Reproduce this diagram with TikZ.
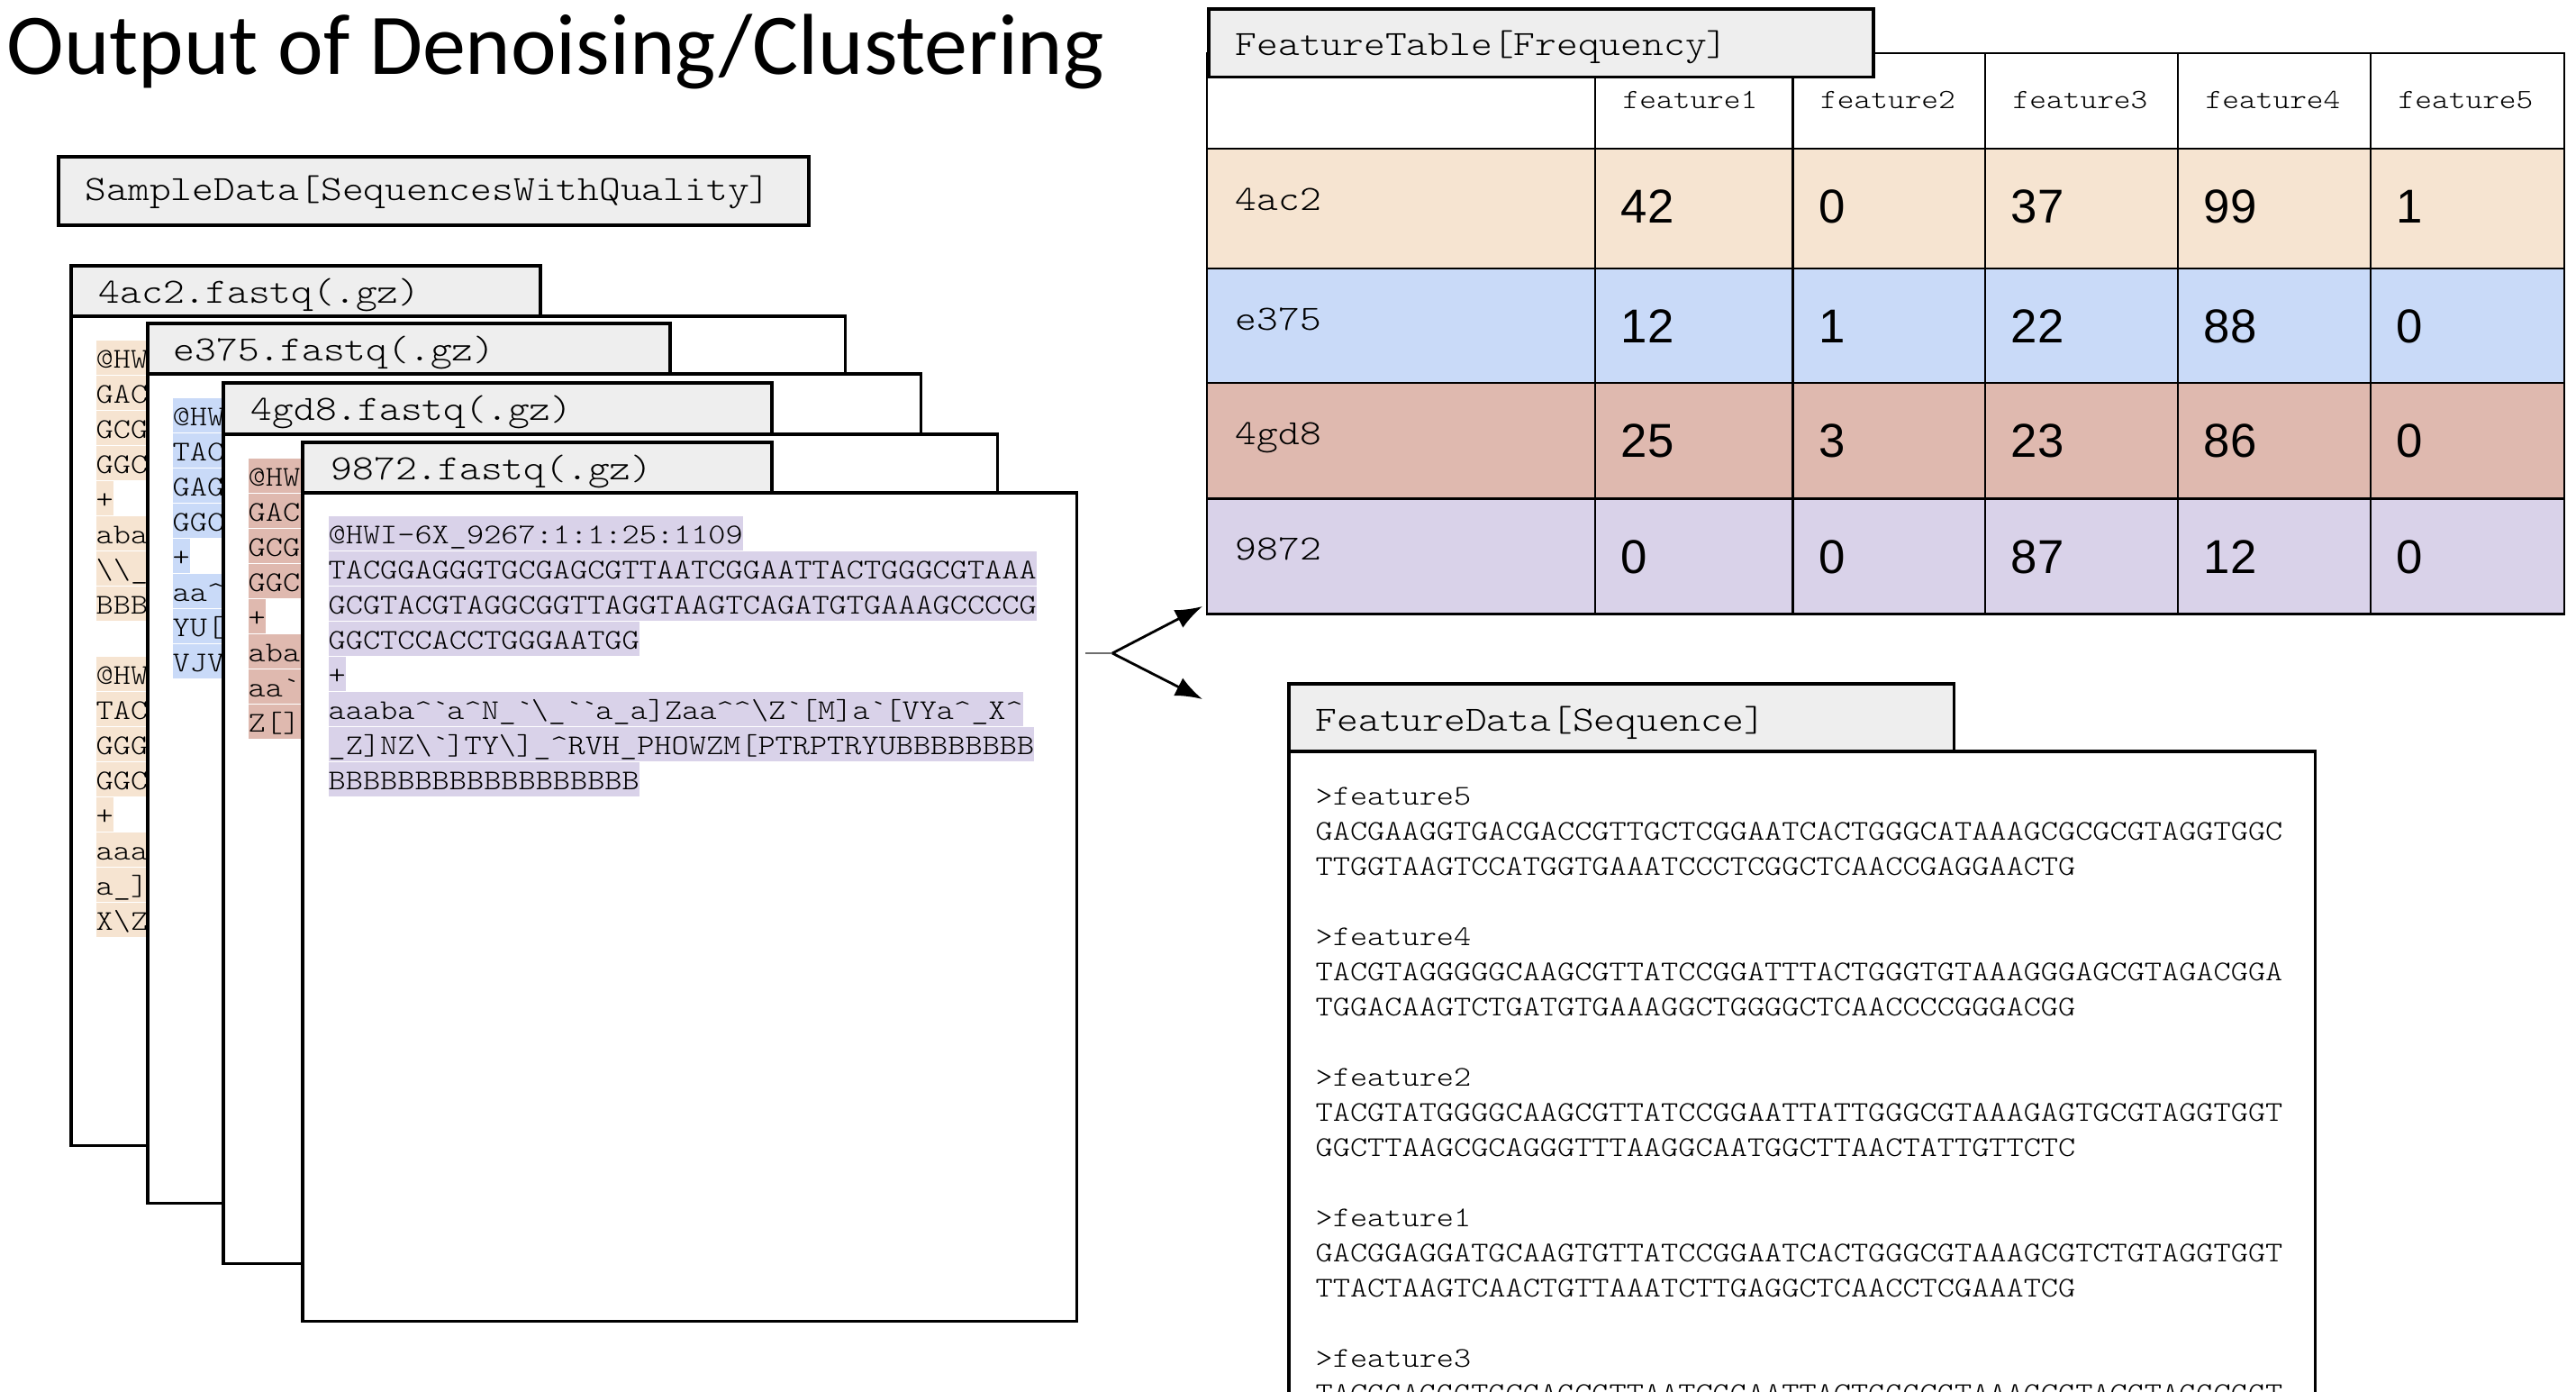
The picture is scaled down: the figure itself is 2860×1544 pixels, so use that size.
\documentclass[tikz,border=0pt]{standalone}
\usepackage{fontspec}
\setmonofont{lmmonolt10-regular.otf}[FakeStretch=1.15]
\newfontfamily\titlefont{Carlito}
\newfontfamily\numfont{Liberation Sans}
\usetikzlibrary{arrows.meta}

\definecolor{tabgray}{RGB}{238,238,238}
\definecolor{cA}{RGB}{246,228,209}
\definecolor{cB}{RGB}{201,218,248}
\definecolor{cC}{RGB}{223,185,175}
\definecolor{cD}{RGB}{217,210,233}
\definecolor{stubgray}{RGB}{110,110,110}

\newcommand\hatc{\textasciicircum}
\newcommand\grv{\textasciigrave}
\newcommand\bsl{\textbackslash}
\newcommand\usc{\_}
\newcommand\sqfont{\fontsize{9.03}{10}\selectfont\ttfamily}
\newcommand\lbfont{\fontsize{11.2}{12}\selectfont\ttfamily}

\tikzset{
  tabbox/.style={draw=black, line width=1pt, fill=tabgray, inner sep=0, anchor=north west},
  cardbody/.style={draw=black, line width=1pt, fill=white, inner sep=0, anchor=north west},
  tablabel/.style={font=\lbfont, inner sep=0, anchor=base west},
  seqrow/.style={font=\sqfont, inner sep=0, anchor=base west, text height=8.54pt, text depth=2.28pt, fill=#1},
  seqline/.style={font=\sqfont, inner sep=0, anchor=base west},
  hdr/.style={font=\fontsize{8.81}{10}\selectfont\ttfamily, inner sep=0, anchor=base west},
  num/.style={font=\numfont\fontsize{15}{18}\selectfont, inner sep=0, anchor=base west},
  tline/.style={draw=black, line width=0.8pt},
  arr/.style={draw=black, line width=0.8pt, -{Latex[length=0.3cm,width=0.22cm]}},
  stub/.style={draw=stubgray, line width=0.8pt},
}

\newcommand\numrow[7]{%
  \node[num] (#1a) at (1799,#2) {#3};
  \node[num] (#1b) at (2018.5,#2) {#4};
  \node[num] (#1c) at (2232,#2) {#5};
  \node[num] (#1d) at (2446,#2) {#6};
  \node[num] (#1e) at (2660,#2) {#7};}

\begin{document}
\begin{tikzpicture}[x=0.01cm,y=-0.01cm]
\useasboundingbox (0,0) rectangle (2860,1544);
\clip (0,0) rectangle (2860,1544);
\fill[white] (0,0) rectangle (2860,1544);

% Title
\node[font=\titlefont\fontsize{27.3}{30}\selectfont, inner sep=0, anchor=base west] (title) at (7,82) {Output of Denoising/Clustering};

% SampleData box
\node[tabbox, minimum width=8.33cm, minimum height=0.76cm] (sdbox) at (63,172) {};
\node[tablabel] (sdlabel) at (94,222.5) {SampleData[SequencesWithQuality]};

% ---------- Card 1 (4ac2)
\node[cardbody, minimum width=8.59cm, minimum height=9.20cm] (card1) at (77,349) {};
\node[tabbox, minimum width=5.21cm, minimum height=0.56cm] (tab1) at (77,293) {};
\node[tablabel] (tab1t) at (109,336.5) {4ac2.fastq(.gz)};
\node[seqrow=cA] (a1) at (106,408) {@HW\phantom{X}};
\node[seqrow=cA] (a2) at (106,447) {GAC\phantom{X}};
\node[seqrow=cA] (a3) at (106,486) {GCG\phantom{X}};
\node[seqrow=cA] (a4) at (106,525) {GGC\phantom{X}};
\node[seqrow=cA] (a5) at (106,564) {+};
\node[seqrow=cA] (a6) at (106,603) {aba\phantom{X}};
\node[seqrow=cA] (a7) at (106,642) {\bsl{}\bsl{}\usc{}\phantom{X}};
\node[seqrow=cA] (a8) at (106,681) {BBB\phantom{X}};
\node[seqrow=cA] (a10) at (106,759) {@HW\phantom{X}};
\node[seqrow=cA] (a11) at (106,798) {TAC\phantom{X}};
\node[seqrow=cA] (a12) at (106,837) {GGG\phantom{X}};
\node[seqrow=cA] (a13) at (106,876) {GGC\phantom{X}};
\node[seqrow=cA] (a14) at (106,915) {+};
\node[seqrow=cA] (a15) at (106,954) {aaa\phantom{X}};
\node[seqrow=cA] (a16) at (106,993) {a\usc{}]\phantom{X}};
\node[seqrow=cA] (a17) at (106,1032) {X\bsl{}Z\phantom{X}};

% ---------- Card 2 (e375)
\node[cardbody, minimum width=8.58cm, minimum height=9.20cm] (card2) at (162,413) {};
\node[tabbox, minimum width=5.80cm, minimum height=0.56cm] (tab2) at (162,357) {};
\node[tablabel] (tab2t) at (192,400.5) {e375.fastq(.gz)};
\node[seqrow=cB] (b1) at (191,472) {@HW\phantom{X}};
\node[seqrow=cB] (b2) at (191,511) {TAC\phantom{X}};
\node[seqrow=cB] (b3) at (191,550) {GAG\phantom{X}};
\node[seqrow=cB] (b4) at (191,589) {GGC\phantom{X}};
\node[seqrow=cB] (b5) at (191,628) {+};
\node[seqrow=cB] (b6) at (191,667) {aa\hatc{}\phantom{X}};
\node[seqrow=cB] (b7) at (191,706) {YU[\phantom{X}};
\node[seqrow=cB] (b8) at (191,745) {VJV\phantom{X}};

% ---------- Card 3 (4gd8)
\node[cardbody, minimum width=8.59cm, minimum height=9.20cm] (card3) at (246,480) {};
\node[tabbox, minimum width=6.09cm, minimum height=0.57cm] (tab3) at (246,423) {};
\node[tablabel] (tab3t) at (278,466.5) {4gd8.fastq(.gz)};
\node[seqrow=cC] (c1) at (275,539) {@HW\phantom{X}};
\node[seqrow=cC] (c2) at (275,578) {GAC\phantom{X}};
\node[seqrow=cC] (c3) at (275,617) {GCG\phantom{X}};
\node[seqrow=cC] (c4) at (275,656) {GGC\phantom{X}};
\node[seqrow=cC] (c5) at (275,695) {+};
\node[seqrow=cC] (c6) at (275,734) {aba\phantom{X}};
\node[seqrow=cC] (c7) at (275,773) {aa\grv{}\phantom{X}};
\node[seqrow=cC] (c8) at (275,812) {Z[]\phantom{X}};

% ---------- Card 4 (9872)
\node[cardbody, minimum width=8.59cm, minimum height=9.19cm] (card4) at (334,545) {};
\node[tabbox, minimum width=5.21cm, minimum height=0.56cm] (tab4) at (334,489) {};
\node[tablabel] (tab4t) at (367,532.5) {9872.fastq(.gz)};
\node[seqrow=cD] (d1) at (364,603) {@HWI-6X\usc{}9267:1:1:25:1109};
\node[seqrow=cD] (d2) at (364,642) {TACGGAGGGTGCGAGCGTTAATCGGAATTACTGGGCGTAAA};
\node[seqrow=cD] (d3) at (364,681) {GCGTACGTAGGCGGTTAGGTAAGTCAGATGTGAAAGCCCCG};
\node[seqrow=cD] (d4) at (364,720) {GGCTCCACCTGGGAATGG};
\node[seqrow=cD] (d5) at (364,759) {+};
\node[seqrow=cD] (d6) at (364,798) {aaaba\hatc{}\grv{}a\hatc{}N\usc{}\grv{}\bsl{}\usc{}\grv{}\grv{}a\usc{}a]Zaa\hatc{}\hatc{}\bsl{}Z\grv{}[M]a\grv{}[VYa\hatc{}\usc{}X\hatc{}};
\node[seqrow=cD] (d7) at (364,837) {\usc{}Z]NZ\bsl{}\grv{}]TY\bsl{}]\usc{}\hatc{}RVH\usc{}PHOWZM[PTRPTRYUBBBBBBBB};
\node[seqrow=cD] (d8) at (364,876) {BBBBBBBBBBBBBBBBBB};

% ---------- Arrows
\coordinate (stubstart) at (1205,725);
\coordinate (fork) at (1235,725);
\coordinate (tipA) at (1335,673);
\coordinate (tipB) at (1335,776);
\draw[stub] (stubstart) -- (fork);
\draw[arr] (fork) -- (tipA);
\draw[arr] (fork) -- (tipB);

% ---------- Feature table
\fill[white] (1340,59) rectangle (2847,165);
\fill[cA] (1340,165) rectangle (2847,298);
\fill[cB] (1340,298) rectangle (2847,425);
\fill[cC] (1340,425) rectangle (2847,553.6);
\fill[cD] (1340,553.6) rectangle (2847,681.7);
\draw[tline] (1340,59) rectangle (2847,681.7);
\draw[tline] (1340,165) -- (2847,165);
\draw[tline] (1340,298) -- (2847,298);
\draw[tline] (1340,425) -- (2847,425);
\draw[tline] (1340,553.6) -- (2847,553.6);
\draw[tline] (1771,59) -- (1771,681.7);
\draw[tline] (1990.5,59) -- (1990.5,681.7);
\draw[tline] (2204,59) -- (2204,681.7);
\draw[tline] (2418,59) -- (2418,681.7);
\draw[tline] (2632,59) -- (2632,681.7);

\node[hdr] (h1) at (1801,120) {feature1};
\node[hdr] (h2) at (2020.5,120) {feature2};
\node[hdr] (h3) at (2234,120) {feature3};
\node[hdr] (h4) at (2448,120) {feature4};
\node[hdr] (h5) at (2662,120) {feature5};

\node[tablabel] (l1) at (1371,233) {4ac2};
\node[tablabel] (l2) at (1371,366) {e375};
\node[tablabel] (l3) at (1371,493) {4gd8};
\node[tablabel] (l4) at (1371,621.6) {9872};

\numrow{rA}{247.5}{42}{0}{37}{99}{1}
\numrow{rB}{380.5}{12}{1}{22}{88}{0}
\numrow{rC}{507.5}{25}{3}{23}{86}{0}
\numrow{rD}{636}{0}{0}{87}{12}{0}

\node[tabbox, minimum width=7.38cm, minimum height=0.755cm] (fttab) at (1340,8) {};
\node[tablabel] (fttabt) at (1371,61.5) {FeatureTable[Frequency]};

% ---------- Feature data
\node[cardbody, minimum width=11.39cm, minimum height=8cm] (fdbody) at (1429,832) {};
\node[tabbox, minimum width=7.385cm, minimum height=0.75cm] (fdtab) at (1429,757) {};
\node[tablabel] (fdtabt) at (1460,811) {FeatureData[Sequence]};

\node[seqline] (f1) at (1460,893) {>feature5};
\node[seqline] (f2) at (1460,932) {GACGAAGGTGACGACCGTTGCTCGGAATCACTGGGCATAAAGCGCGCGTAGGTGGC};
\node[seqline] (f3) at (1460,971) {TTGGTAAGTCCATGGTGAAATCCCTCGGCTCAACCGAGGAACTG};
\node[seqline] (f4) at (1460,1049) {>feature4};
\node[seqline] (f5) at (1460,1088) {TACGTAGGGGGCAAGCGTTATCCGGATTTACTGGGTGTAAAGGGAGCGTAGACGGA};
\node[seqline] (f6) at (1460,1127) {TGGACAAGTCTGATGTGAAAGGCTGGGGCTCAACCCCGGGACGG};
\node[seqline] (f7) at (1460,1205) {>feature2};
\node[seqline] (f8) at (1460,1244) {TACGTATGGGGCAAGCGTTATCCGGAATTATTGGGCGTAAAGAGTGCGTAGGTGGT};
\node[seqline] (f9) at (1460,1283) {GGCTTAAGCGCAGGGTTTAAGGCAATGGCTTAACTATTGTTCTC};
\node[seqline] (f10) at (1460,1361) {>feature1};
\node[seqline] (f11) at (1460,1400) {GACGGAGGATGCAAGTGTTATCCGGAATCACTGGGCGTAAAGCGTCTGTAGGTGGT};
\node[seqline] (f12) at (1460,1439) {TTACTAAGTCAACTGTTAAATCTTGAGGCTCAACCTCGAAATCG};
\node[seqline] (f13) at (1460,1517) {>feature3};
\node[seqline] (f14) at (1460,1556) {TACGGAGGGTGCGAGCGTTAATCGGAATTACTGGGCGTAAAGCGTACGTAGGCGGT};
\end{tikzpicture}
\end{document}
